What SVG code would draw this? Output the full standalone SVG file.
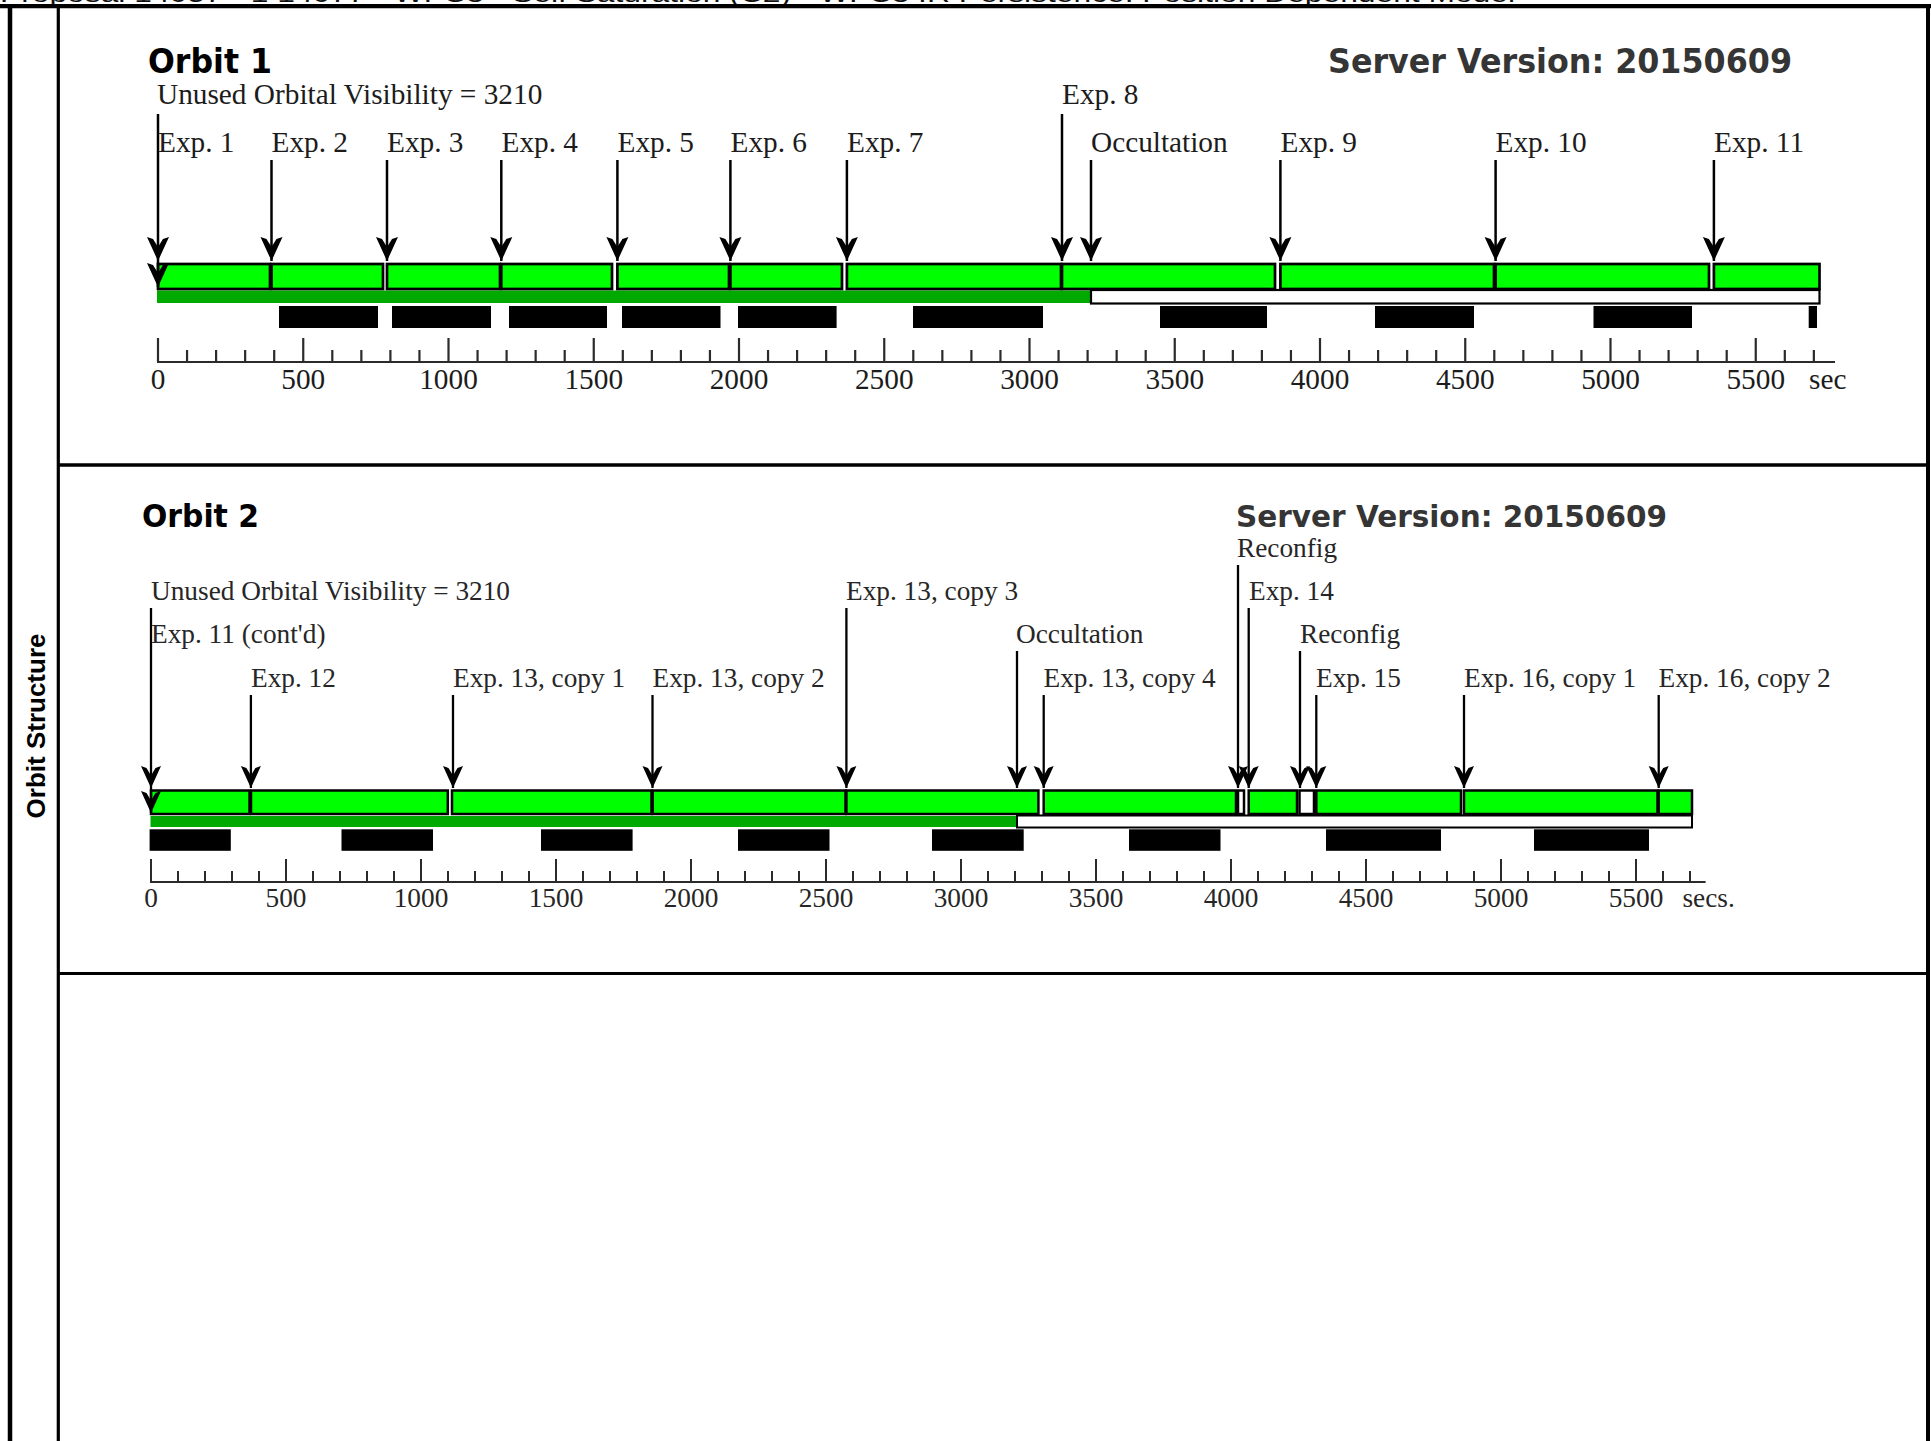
<svg xmlns="http://www.w3.org/2000/svg" width="1931" height="1441" viewBox="0 0 1931 1441">
<style>
.frame{stroke:#000;fill:none}
.hdr{font-family:"Liberation Sans",Arial,sans-serif;font-size:24px;fill:#111}
.side{font-family:"Liberation Sans",Arial,sans-serif;font-weight:bold;font-size:26px;fill:#000}
.ttl{font-family:"DejaVu Sans",sans-serif;font-weight:bold;fill:#000}
.srv{font-family:"DejaVu Sans",sans-serif;font-weight:bold;fill:#353535}
.l1{font-family:"Liberation Serif","Times New Roman",serif;font-size:29.3px;fill:#1c1c1c}
.l2{font-family:"Liberation Serif","Times New Roman",serif;font-size:27.3px;fill:#262626}
.n1{font-family:"Liberation Serif","Times New Roman",serif;font-size:29.3px;fill:#1c1c1c;text-anchor:middle}
.n2{font-family:"Liberation Serif","Times New Roman",serif;font-size:27.3px;fill:#262626;text-anchor:middle}
.g1{fill:#00ff00;stroke:#000;stroke-width:2.7}
.g2{fill:#00ff00;stroke:#000;stroke-width:2.5}
.w1{fill:#fff;stroke:#000;stroke-width:2.7}
.w2{fill:#fff;stroke:#000;stroke-width:2.5}
.dk{fill:#00aa00}
.box1{fill:#fff;stroke:#000;stroke-width:2.2}
.box2{fill:#fff;stroke:#000;stroke-width:2}
.blk{fill:#000}
.ax1{stroke:#2b2b2b;stroke-width:2.2;fill:none}
.ax2{stroke:#2b2b2b;stroke-width:2;fill:none}
.a1{stroke:#000;stroke-width:2.5;fill:none;marker-end:url(#ah1)}
.a2{stroke:#000;stroke-width:2.3;fill:none;marker-end:url(#ah2)}
</style>
<defs>
<marker id="ah1" markerUnits="userSpaceOnUse" viewBox="-26 -13 28 26" markerWidth="28" markerHeight="26" refX="0" refY="0" orient="auto">
<path d="M0,0 L-24,-11 L-22,-5 L-14,0 L-22,5 L-24,11 Z" fill="#000"/>
</marker>
<marker id="ah2" markerUnits="userSpaceOnUse" viewBox="-24 -12 26 24" markerWidth="26" markerHeight="24" refX="0" refY="0" orient="auto">
<path d="M0,0 L-22,-10 L-20,-4.5 L-12.5,0 L-20,4.5 L-22,10 Z" fill="#000"/>
</marker>
</defs>
<rect width="1931" height="1441" fill="#fff"/>

<g id="header">
<text class="hdr" x="0" y="2.2" textLength="1515" lengthAdjust="spacingAndGlyphs">Proposal 14057 - 1 14077 - WFC3 - Self Saturation (C2) - WFC3 IR Persistence: Position Dependent Model</text>
</g>

<g id="frame">
<line class="frame" x1="0" y1="6.2" x2="1931" y2="6.2" stroke-width="4.3"/>
<line class="frame" x1="10" y1="6" x2="10" y2="1441" stroke-width="4.5"/>
<line class="frame" x1="58.3" y1="8" x2="58.3" y2="1441" stroke-width="3.2"/>
<line class="frame" x1="1928" y1="6" x2="1928" y2="1441" stroke-width="4"/>
<line class="frame" x1="58" y1="465" x2="1928" y2="465" stroke-width="3.4"/>
<line class="frame" x1="58" y1="973.4" x2="1928" y2="973.4" stroke-width="3"/>
<text class="side" transform="translate(44.5,726) rotate(-90)" text-anchor="middle">Orbit Structure</text>
</g>

<g id="orbit1">
<text class="ttl" x="148" y="73" font-size="34" textLength="124" lengthAdjust="spacingAndGlyphs">Orbit 1</text>
<text class="srv" x="1328" y="73" font-size="33" textLength="464" lengthAdjust="spacingAndGlyphs">Server Version: 20150609</text>
<g id="orbit1-strip">
<rect class="dk" x="157" y="290.5" width="933.5" height="12.5"/>
<rect class="box1" x="1091" y="290" width="728.5" height="13.5"/>
</g>
<g id="orbit1-exposures">
<rect class="g1" x="158" y="264" width="112" height="25"/>
<rect class="g1" x="271.5" y="264" width="111.5" height="25"/>
<rect class="g1" x="387" y="264" width="113" height="25"/>
<rect class="g1" x="501.3" y="264" width="110.7" height="25"/>
<rect class="g1" x="617.4" y="264" width="111.6" height="25"/>
<rect class="g1" x="730.4" y="264" width="111.6" height="25"/>
<rect class="g1" x="846.9" y="264" width="214.1" height="25"/>
<rect class="g1" x="1062" y="264" width="213" height="25"/>
<rect class="g1" x="1280.4" y="264" width="213.6" height="25"/>
<rect class="g1" x="1495.6" y="264" width="213.4" height="25"/>
<rect class="g1" x="1713.9" y="264" width="105.6" height="25"/>
</g>
<g id="orbit1-bars">
<rect class="blk" x="279" y="306" width="99" height="22"/>
<rect class="blk" x="392" y="306" width="99" height="22"/>
<rect class="blk" x="509" y="306" width="98" height="22"/>
<rect class="blk" x="622" y="306" width="98.5" height="22"/>
<rect class="blk" x="738" y="306" width="98.6" height="22"/>
<rect class="blk" x="913" y="306" width="130" height="22"/>
<rect class="blk" x="1160" y="306" width="107" height="22"/>
<rect class="blk" x="1375" y="306" width="99" height="22"/>
<rect class="blk" x="1593.5" y="306" width="98.5" height="22"/>
<rect class="blk" x="1808.7" y="306" width="8.3" height="22"/>
</g>
<g id="orbit1-axis">
<path class="ax1" d="M157 362H1835"/>
<path class="ax1" d="M158 338V362M303.25 338V362M448.5 338V362M593.75 338V362M739 338V362M884.25 338V362M1029.5 338V362M1174.75 338V362M1320 338V362M1465.25 338V362M1610.5 338V362M1755.75 338V362"/>
<path class="ax1" d="M187.05 350V362M216.1 350V362M245.15 350V362M274.2 350V362M332.3 350V362M361.35 350V362M390.4 350V362M419.45 350V362M477.55 350V362M506.6 350V362M535.65 350V362M564.7 350V362M622.8 350V362M651.85 350V362M680.9 350V362M709.95 350V362M768.05 350V362M797.1 350V362M826.15 350V362M855.2 350V362M913.3 350V362M942.35 350V362M971.4 350V362M1000.45 350V362M1058.55 350V362M1087.6 350V362M1116.65 350V362M1145.7 350V362M1203.8 350V362M1232.85 350V362M1261.9 350V362M1290.95 350V362M1349.05 350V362M1378.1 350V362M1407.15 350V362M1436.2 350V362M1494.3 350V362M1523.35 350V362M1552.4 350V362M1581.45 350V362M1639.55 350V362M1668.6 350V362M1697.65 350V362M1726.7 350V362M1784.8 350V362M1813.85 350V362"/>
<text class="n1" x="158" y="389">0</text>
<text class="n1" x="303.25" y="389">500</text>
<text class="n1" x="448.5" y="389">1000</text>
<text class="n1" x="593.75" y="389">1500</text>
<text class="n1" x="739" y="389">2000</text>
<text class="n1" x="884.25" y="389">2500</text>
<text class="n1" x="1029.5" y="389">3000</text>
<text class="n1" x="1174.75" y="389">3500</text>
<text class="n1" x="1320" y="389">4000</text>
<text class="n1" x="1465.25" y="389">4500</text>
<text class="n1" x="1610.5" y="389">5000</text>
<text class="n1" x="1755.75" y="389">5500</text>
<text class="l1" x="1809" y="389">sec</text>
</g>
<g id="orbit1-labels">
<text class="l1" x="157" y="104">Unused Orbital Visibility = 3210</text>
<text class="l1" x="1062" y="104">Exp. 8</text>
<text class="l1" x="158" y="151.5">Exp. 1</text>
<text class="l1" x="271.5" y="151.5">Exp. 2</text>
<text class="l1" x="387" y="151.5">Exp. 3</text>
<text class="l1" x="501.5" y="151.5">Exp. 4</text>
<text class="l1" x="617.5" y="151.5">Exp. 5</text>
<text class="l1" x="730.5" y="151.5">Exp. 6</text>
<text class="l1" x="847" y="151.5">Exp. 7</text>
<text class="l1" x="1091" y="151.5">Occultation</text>
<text class="l1" x="1280.5" y="151.5">Exp. 9</text>
<text class="l1" x="1495.5" y="151.5">Exp. 10</text>
<text class="l1" x="1714" y="151.5">Exp. 11</text>
</g>
</g>

<g id="orbit2">
<text class="ttl" x="142" y="527" font-size="31.5" textLength="117" lengthAdjust="spacingAndGlyphs">Orbit 2</text>
<text class="srv" x="1236" y="527" font-size="30.5" textLength="431" lengthAdjust="spacingAndGlyphs">Server Version: 20150609</text>
<g id="orbit2-strip">
<rect class="dk" x="150.5" y="816" width="866.5" height="11"/>
<rect class="box2" x="1017" y="815.5" width="675" height="12"/>
</g>
<g id="orbit2-exposures">
<rect class="g2" x="151" y="790.5" width="98.5" height="23.5"/>
<rect class="g2" x="251" y="790.5" width="196.8" height="23.5"/>
<rect class="g2" x="452" y="790.5" width="199.5" height="23.5"/>
<rect class="g2" x="652.7" y="790.5" width="192.8" height="23.5"/>
<rect class="g2" x="846.4" y="790.5" width="192" height="23.5"/>
<rect class="g2" x="1043.7" y="790.5" width="192.3" height="23.5"/>
<rect class="w2" x="1238" y="790.5" width="6" height="23.5"/>
<rect class="g2" x="1248.7" y="790.5" width="48.3" height="23.5"/>
<rect class="w2" x="1299.5" y="790.5" width="14.5" height="23.5"/>
<rect class="g2" x="1316.3" y="790.5" width="144.7" height="23.5"/>
<rect class="g2" x="1464" y="790.5" width="193.5" height="23.5"/>
<rect class="g2" x="1658.7" y="790.5" width="33.3" height="23.5"/>
</g>
<g id="orbit2-bars">
<rect class="blk" x="149.6" y="829.3" width="81.2" height="21.5"/>
<rect class="blk" x="341.5" y="829.3" width="91.5" height="21.5"/>
<rect class="blk" x="541" y="829.3" width="91.6" height="21.5"/>
<rect class="blk" x="738" y="829.3" width="91.5" height="21.5"/>
<rect class="blk" x="932" y="829.3" width="91.7" height="21.5"/>
<rect class="blk" x="1129" y="829.3" width="91.5" height="21.5"/>
<rect class="blk" x="1326" y="829.3" width="115" height="21.5"/>
<rect class="blk" x="1534" y="829.3" width="115" height="21.5"/>
</g>
<g id="orbit2-axis">
<path class="ax2" d="M150 882H1705.6"/>
<path class="ax2" d="M151 859V882M286 859V882M421 859V882M556 859V882M691 859V882M826 859V882M961 859V882M1096 859V882M1231 859V882M1366 859V882M1501 859V882M1636 859V882"/>
<path class="ax2" d="M178 871V882M205 871V882M232 871V882M259 871V882M313 871V882M340 871V882M367 871V882M394 871V882M448 871V882M475 871V882M502 871V882M529 871V882M583 871V882M610 871V882M637 871V882M664 871V882M718 871V882M745 871V882M772 871V882M799 871V882M853 871V882M880 871V882M907 871V882M934 871V882M988 871V882M1015 871V882M1042 871V882M1069 871V882M1123 871V882M1150 871V882M1177 871V882M1204 871V882M1258 871V882M1285 871V882M1312 871V882M1339 871V882M1393 871V882M1420 871V882M1447 871V882M1474 871V882M1528 871V882M1555 871V882M1582 871V882M1609 871V882M1663 871V882M1690 871V882"/>
<text class="n2" x="151" y="907">0</text>
<text class="n2" x="286" y="907">500</text>
<text class="n2" x="421" y="907">1000</text>
<text class="n2" x="556" y="907">1500</text>
<text class="n2" x="691" y="907">2000</text>
<text class="n2" x="826" y="907">2500</text>
<text class="n2" x="961" y="907">3000</text>
<text class="n2" x="1096" y="907">3500</text>
<text class="n2" x="1231" y="907">4000</text>
<text class="n2" x="1366" y="907">4500</text>
<text class="n2" x="1501" y="907">5000</text>
<text class="n2" x="1636" y="907">5500</text>
<text class="l2" x="1682.5" y="907">secs.</text>
</g>
<g id="orbit2-labels">
<text class="l2" x="1237" y="557">Reconfig</text>
<text class="l2" x="151" y="600">Unused Orbital Visibility = 3210</text>
<text class="l2" x="846" y="600">Exp. 13, copy 3</text>
<text class="l2" x="1249" y="600">Exp. 14</text>
<text class="l2" x="151" y="643">Exp. 11 (cont'd)</text>
<text class="l2" x="1016" y="643">Occultation</text>
<text class="l2" x="1300" y="643">Reconfig</text>
<text class="l2" x="251" y="687">Exp. 12</text>
<text class="l2" x="453" y="687">Exp. 13, copy 1</text>
<text class="l2" x="652.5" y="687">Exp. 13, copy 2</text>
<text class="l2" x="1043.5" y="687">Exp. 13, copy 4</text>
<text class="l2" x="1316" y="687">Exp. 15</text>
<text class="l2" x="1464" y="687">Exp. 16, copy 1</text>
<text class="l2" x="1658.5" y="687">Exp. 16, copy 2</text>
</g>
</g>

<g id="connectors">
<path class="a1" d="M158 114V261"/>
<path class="a1" d="M158 261V287"/>
<path class="a1" d="M271.5 160V261"/>
<path class="a1" d="M387 160V261"/>
<path class="a1" d="M501.3 160V261"/>
<path class="a1" d="M617.4 160V261"/>
<path class="a1" d="M730.4 160V261"/>
<path class="a1" d="M846.9 160V261"/>
<path class="a1" d="M1062 114V261"/>
<path class="a1" d="M1091 160V261"/>
<path class="a1" d="M1280.4 160V261"/>
<path class="a1" d="M1495.6 160V261"/>
<path class="a1" d="M1713.9 160V261"/>
<path class="a2" d="M151 608V788"/>
<path class="a2" d="M151 788V813"/>
<path class="a2" d="M250.9 695V788"/>
<path class="a2" d="M453 695V788"/>
<path class="a2" d="M652.5 695V788"/>
<path class="a2" d="M846.4 608V788"/>
<path class="a2" d="M1017 651V788"/>
<path class="a2" d="M1043.7 695V788"/>
<path class="a2" d="M1238 565V788"/>
<path class="a2" d="M1248.7 608V788"/>
<path class="a2" d="M1300 651V788"/>
<path class="a2" d="M1316.3 695V788"/>
<path class="a2" d="M1464 695V788"/>
<path class="a2" d="M1658.7 695V788"/>
</g>
</svg>
